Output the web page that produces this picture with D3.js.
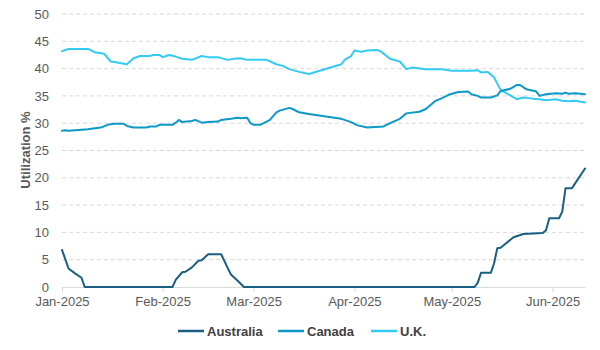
<!DOCTYPE html>
<html>
<head>
<meta charset="utf-8">
<script src="https://cdn.jsdelivr.net/npm/d3@7"></script>
<style>
  html, body { margin: 0; padding: 0; background: #fff; }
  svg { display: block; font-family: "Liberation Sans", Arial, sans-serif; }
</style>
</head>
<body>
<svg id="chart" width="600" height="350"></svg>
<script>
// Utilization % by market, daily, Jan–Jun 2025
const seriesNames = ["Australia", "Canada", "U.K."];
const seriesColors = ["#1a5e82", "#0c99c8", "#33cbf3"];

const australiaDates = ["2025-01-01","2025-01-03","2025-01-05","2025-01-07","2025-01-08","2025-02-04","2025-02-05","2025-02-07","2025-02-08","2025-02-10","2025-02-12","2025-02-13","2025-02-15","2025-02-19","2025-02-21","2025-02-22","2025-02-24","2025-02-26","2025-05-08","2025-05-09","2025-05-10","2025-05-13","2025-05-14","2025-05-15","2025-05-16","2025-05-20","2025-05-23","2025-05-26","2025-05-29","2025-05-30","2025-05-31","2025-06-03","2025-06-04","2025-06-05","2025-06-07","2025-06-11"];
const australiaValues = [6.8,3.4,2.5,1.7,0,0,1.3,2.7,2.8,3.6,4.8,4.9,6.0,6.0,3.5,2.3,1.2,0,0,0.8,2.6,2.6,4.3,7.1,7.2,9.1,9.7,9.8,9.9,10.4,12.6,12.6,13.8,18.1,18.1,21.7];

const canadaDates = ["2025-01-01","2025-01-02","2025-01-03","2025-01-09","2025-01-10","2025-01-13","2025-01-15","2025-01-17","2025-01-20","2025-01-21","2025-01-23","2025-01-27","2025-01-28","2025-01-30","2025-01-31","2025-02-04","2025-02-05","2025-02-06","2025-02-07","2025-02-10","2025-02-11","2025-02-13","2025-02-15","2025-02-18","2025-02-19","2025-02-22","2025-02-24","2025-02-25","2025-02-27","2025-02-28","2025-03-01","2025-03-03","2025-03-05","2025-03-06","2025-03-08","2025-03-09","2025-03-12","2025-03-13","2025-03-15","2025-03-18","2025-03-28","2025-03-31","2025-04-02","2025-04-05","2025-04-10","2025-04-12","2025-04-15","2025-04-17","2025-04-21","2025-04-23","2025-04-26","2025-04-28","2025-04-30","2025-05-03","2025-05-06","2025-05-07","2025-05-09","2025-05-10","2025-05-13","2025-05-15","2025-05-16","2025-05-19","2025-05-21","2025-05-22","2025-05-24","2025-05-27","2025-05-28","2025-05-30","2025-06-02","2025-06-04","2025-06-05","2025-06-06","2025-06-08","2025-06-11"];
const canadaValues = [28.6,28.7,28.6,28.9,29.0,29.2,29.7,29.9,29.9,29.5,29.2,29.2,29.4,29.4,29.7,29.7,30.1,30.6,30.2,30.4,30.6,30.1,30.2,30.3,30.6,30.8,31.0,30.9,31.0,30.0,29.7,29.7,30.3,30.6,32.0,32.3,32.8,32.6,32.0,31.7,30.8,30.2,29.6,29.2,29.4,30.0,30.8,31.8,32.1,32.6,34.1,34.6,35.2,35.7,35.8,35.3,35.0,34.7,34.7,35.1,35.9,36.3,37.0,37.0,36.2,35.8,35.0,35.3,35.5,35.4,35.6,35.4,35.5,35.3];

const ukDates = ["2025-01-01","2025-01-03","2025-01-09","2025-01-11","2025-01-14","2025-01-16","2025-01-18","2025-01-21","2025-01-23","2025-01-25","2025-01-28","2025-01-29","2025-01-31","2025-02-01","2025-02-03","2025-02-05","2025-02-07","2025-02-10","2025-02-13","2025-02-15","2025-02-18","2025-02-21","2025-02-23","2025-02-25","2025-02-27","2025-03-05","2025-03-08","2025-03-10","2025-03-12","2025-03-15","2025-03-18","2025-03-28","2025-03-29","2025-03-31","2025-04-01","2025-04-03","2025-04-05","2025-04-08","2025-04-09","2025-04-12","2025-04-15","2025-04-17","2025-04-19","2025-04-23","2025-04-28","2025-05-01","2025-05-07","2025-05-09","2025-05-10","2025-05-12","2025-05-14","2025-05-16","2025-05-21","2025-05-23","2025-05-26","2025-05-28","2025-05-30","2025-06-02","2025-06-04","2025-06-06","2025-06-08","2025-06-11"];
const ukValues = [43.2,43.6,43.6,43.0,42.7,41.3,41.1,40.8,41.9,42.3,42.3,42.5,42.5,42.1,42.5,42.2,41.8,41.6,42.3,42.1,42.1,41.6,41.8,41.9,41.6,41.6,40.8,40.5,39.9,39.4,39.0,40.8,41.6,42.3,43.3,43.1,43.3,43.4,43.2,41.8,41.3,39.9,40.2,39.9,39.9,39.6,39.6,39.7,39.3,39.4,38.4,36.1,34.4,34.7,34.5,34.4,34.2,34.4,34.1,34.0,34.1,33.8];

const yTicks = [0, 5, 10, 15, 20, 25, 30, 35, 40, 45, 50];
const xTickDates = ["2025-01-01","2025-02-01","2025-03-01","2025-04-01","2025-05-01","2025-06-01"];
const xDomain = ["2025-01-01", "2025-06-11"];
const yAxisTitle = "Utilization %";

const parse = d3.utcParse("%Y-%m-%d");
const fmt = d3.utcFormat("%b-%Y");

const margin = { left: 62, right: 15, top: 14, bottom: 63 };
const W = 600, H = 350;
const svg = d3.select("#chart");

const x = d3.scaleUtc()
  .domain(xDomain.map(parse))
  .range([margin.left, W - margin.right]);
const y = d3.scaleLinear()
  .domain([0, 50])
  .range([H - margin.bottom, margin.top]);

const textColor = "#595959";

// dashed horizontal gridlines
svg.append("g")
  .selectAll("line")
  .data(yTicks.filter(t => t > 0))
  .join("line")
  .attr("x1", x.range()[0])
  .attr("x2", x.range()[1])
  .attr("y1", d => y(d))
  .attr("y2", d => y(d))
  .attr("stroke", "#d9d9d9")
  .attr("stroke-width", 1)
  .attr("stroke-dasharray", "4,3");

// y axis labels
const yAxis = d3.axisLeft(y).tickValues(yTicks).tickSize(0).tickPadding(13);
svg.append("g")
  .attr("transform", `translate(${margin.left},0)`)
  .call(yAxis)
  .call(g => g.select(".domain").remove())
  .call(g => g.selectAll("text")
    .attr("fill", textColor)
    .style("font-size", "13px")
    .style("font-family", "'Liberation Sans', Arial, sans-serif"));

// x axis baseline with month ticks
const xAxis = d3.axisBottom(x)
  .tickValues(xTickDates.map(parse))
  .tickFormat(fmt)
  .tickSizeInner(5)
  .tickSizeOuter(0)
  .tickPadding(5);
svg.append("g")
  .attr("transform", `translate(0,${y(0)})`)
  .call(xAxis)
  .call(g => g.select(".domain").attr("stroke", "#d9d9d9").attr("stroke-width", 1))
  .call(g => g.selectAll(".tick line").attr("stroke", "#d9d9d9"))
  .call(g => g.selectAll("text")
    .attr("fill", textColor)
    .style("font-size", "13px")
    .style("font-family", "'Liberation Sans', Arial, sans-serif"));

// y axis title
svg.append("text")
  .attr("transform", `translate(30,150) rotate(-90)`)
  .attr("text-anchor", "middle")
  .attr("fill", textColor)
  .style("font-size", "13px")
  .style("font-weight", "bold")
  .text(yAxisTitle);

// series lines
const series = [
  { name: seriesNames[0], color: seriesColors[0], dates: australiaDates, values: australiaValues },
  { name: seriesNames[1], color: seriesColors[1], dates: canadaDates, values: canadaValues },
  { name: seriesNames[2], color: seriesColors[2], dates: ukDates, values: ukValues }
];

const line = d3.line()
  .x(d => x(d.date))
  .y(d => y(d.value));

svg.append("g")
  .selectAll("path")
  .data(series.slice().reverse())
  .join("path")
  .attr("fill", "none")
  .attr("stroke", d => d.color)
  .attr("stroke-width", 2)
  .attr("stroke-linejoin", "round")
  .attr("stroke-linecap", "round")
  .attr("d", d => line(d.dates.map((t, i) => ({ date: parse(t), value: d.values[i] }))));

// legend
const legendX = [178, 278, 371];
const legend = svg.append("g");
series.forEach((s, i) => {
  const g = legend.append("g").attr("transform", `translate(${legendX[i]},331)`);
  g.append("line")
    .attr("x1", 0).attr("x2", 26)
    .attr("y1", 0).attr("y2", 0)
    .attr("stroke", s.color)
    .attr("stroke-width", 2.5);
  g.append("text")
    .attr("x", 29)
    .attr("y", 4.5)
    .attr("fill", "#404040")
    .style("font-size", "13px")
    .style("font-weight", "bold")
    .text(s.name);
});
</script>
</body>
</html>
